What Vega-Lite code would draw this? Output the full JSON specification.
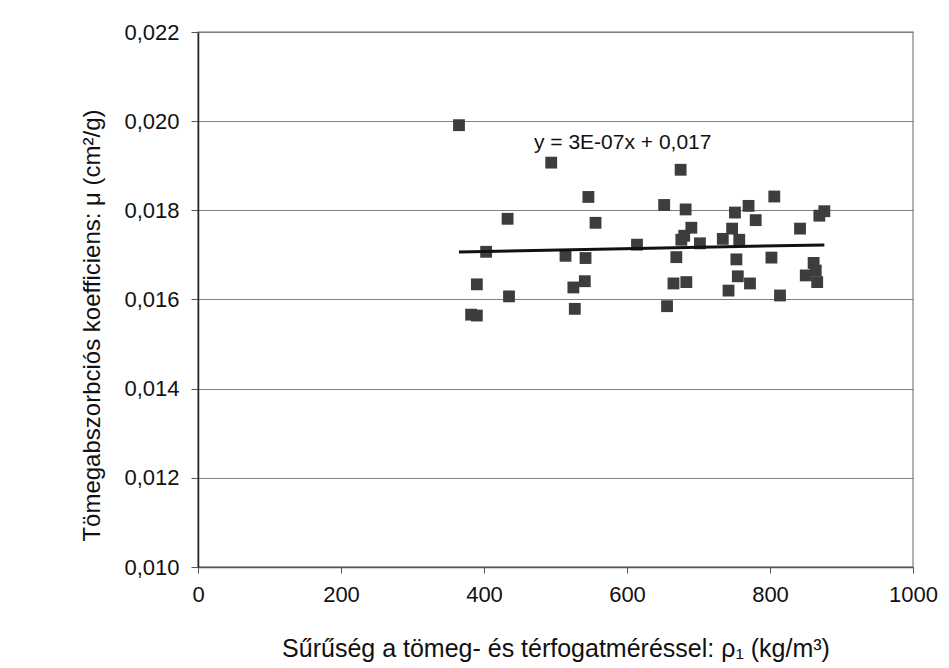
{
  "$schema": "https://vega.github.io/schema/vega-lite/v6.json",
  "width": 715,
  "height": 535,
  "autosize": {"type": "none"},
  "padding": {"left": 198, "top": 32, "right": 36, "bottom": 101},
  "background": "white",
  "config": {
    "font": "Liberation Sans",
    "view": {"stroke": "#9a9a9a", "strokeWidth": 1.5}
  },
  "datasets": {
    "points": [
      {"rho": 365, "mu": 0.01991},
      {"rho": 494, "mu": 0.01907},
      {"rho": 546, "mu": 0.01830},
      {"rho": 433, "mu": 0.01781},
      {"rho": 556, "mu": 0.01772},
      {"rho": 403, "mu": 0.01707},
      {"rho": 614, "mu": 0.01723},
      {"rho": 514, "mu": 0.01698},
      {"rho": 542, "mu": 0.01693},
      {"rho": 390, "mu": 0.01634},
      {"rho": 541, "mu": 0.01641},
      {"rho": 525, "mu": 0.01627},
      {"rho": 435, "mu": 0.01607},
      {"rho": 382, "mu": 0.01566},
      {"rho": 390, "mu": 0.01564},
      {"rho": 527, "mu": 0.01579},
      {"rho": 675, "mu": 0.01891},
      {"rho": 652, "mu": 0.01812},
      {"rho": 682, "mu": 0.01802},
      {"rho": 806, "mu": 0.01831},
      {"rho": 770, "mu": 0.01810},
      {"rho": 751, "mu": 0.01795},
      {"rho": 780, "mu": 0.01778},
      {"rho": 876, "mu": 0.01798},
      {"rho": 869, "mu": 0.01788},
      {"rho": 842, "mu": 0.01759},
      {"rho": 690, "mu": 0.01761},
      {"rho": 747, "mu": 0.01759},
      {"rho": 680, "mu": 0.01743},
      {"rho": 676, "mu": 0.01734},
      {"rho": 702, "mu": 0.01726},
      {"rho": 734, "mu": 0.01736},
      {"rho": 757, "mu": 0.01734},
      {"rho": 669, "mu": 0.01695},
      {"rho": 753, "mu": 0.01690},
      {"rho": 802, "mu": 0.01694},
      {"rho": 861, "mu": 0.01682},
      {"rho": 864, "mu": 0.01665},
      {"rho": 850, "mu": 0.01654},
      {"rho": 866, "mu": 0.01639},
      {"rho": 665, "mu": 0.01636},
      {"rho": 683, "mu": 0.01639},
      {"rho": 755, "mu": 0.01652},
      {"rho": 772, "mu": 0.01636},
      {"rho": 742, "mu": 0.01620},
      {"rho": 814, "mu": 0.01609},
      {"rho": 656, "mu": 0.01585}
    ],
    "trend": [
      {"rho": 365, "mu": 0.017065},
      {"rho": 876, "mu": 0.017225}
    ],
    "equation": [
      {"label": "y = 3E-07x + 0,017"}
    ]
  },
  "layer": [
    {
      "data": {"name": "points"},
      "mark": {"type": "point", "shape": "square", "filled": true, "size": 140, "color": "#3d3d3d", "opacity": 1},
      "encoding": {
        "x": {
          "field": "rho", "type": "quantitative",
          "scale": {"domain": [0, 1000], "nice": false, "zero": false},
          "axis": {
            "values": [0, 200, 400, 600, 800, 1000],
            "format": "d",
            "grid": false,
            "domainColor": "#555555",
            "domainWidth": 1.5,
            "tickColor": "#555555",
            "tickSize": 6,
            "labelFontSize": 22,
            "labelColor": "#111111",
            "labelPadding": 11,
            "labelFlush": false,
            "title": "Sűrűség a tömeg- és térfogatméréssel: ρ₁ (kg/m³)",
            "titleFontSize": 25,
            "titleFontWeight": "normal",
            "titleColor": "#111111",
            "titlePadding": 31
          }
        },
        "y": {
          "field": "mu", "type": "quantitative",
          "scale": {"domain": [0.010, 0.022], "nice": false, "zero": false},
          "axis": {
            "values": [0.010, 0.012, 0.014, 0.016, 0.018, 0.020, 0.022],
            "labelExpr": "replace(format(datum.value, '.3f'), '.', ',')",
            "grid": true,
            "gridColor": "#808080",
            "gridWidth": 1,
            "domainColor": "#222222",
            "domainWidth": 1.5,
            "tickColor": "#555555",
            "tickSize": 7,
            "labelFontSize": 22,
            "labelColor": "#111111",
            "labelPadding": 12,
            "labelFlush": false,
            "title": "Tömegabszorbciós koefficiens: μ (cm²/g)",
            "titleFontSize": 24,
            "titleFontWeight": "normal",
            "titleColor": "#111111",
            "titleAngle": 270,
            "titleAlign": "center",
            "titleBaseline": "middle",
            "titleX": -106,
            "titleY": 293
          }
        }
      }
    },
    {
      "data": {"name": "trend"},
      "mark": {"type": "line", "color": "#111111", "strokeWidth": 3},
      "encoding": {
        "x": {"field": "rho", "type": "quantitative"},
        "y": {"field": "mu", "type": "quantitative"}
      }
    },
    {
      "data": {"name": "equation"},
      "mark": {"type": "text", "fontSize": 21, "color": "#111111", "align": "center", "baseline": "alphabetic"},
      "encoding": {
        "x": {"datum": 594, "type": "quantitative"},
        "y": {"datum": 0.01937, "type": "quantitative"},
        "text": {"field": "label"}
      }
    }
  ]
}
